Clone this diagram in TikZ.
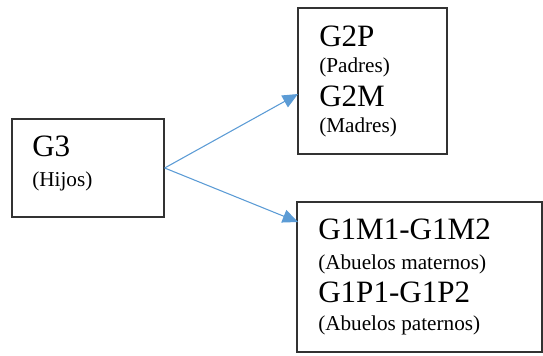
\documentclass[tikz,border=0pt]{standalone}
\usepackage{fontspec}
\setmainfont{Liberation Serif}
\usetikzlibrary{positioning,arrows.meta,fit}
\definecolor{arrC}{RGB}{91,155,213}
\definecolor{boxC}{RGB}{50,50,50}

\begin{document}
\begin{tikzpicture}[
  x=0.75pt, y=-0.75pt,
  box/.style={draw=boxC, line width=1pt, inner sep=0pt},
  gen/.style={anchor=base west, inner sep=0pt, font=\fontsize{23.3}{28}\selectfont},
  who/.style={anchor=base west, inner sep=0pt, font=\fontsize{15.9}{19}\selectfont},
  arr/.style={-{Triangle[length=11.5pt, width=10pt]}, line width=0.8pt, draw=arrC},
]
\useasboundingbox (0,0) rectangle (543,356);

% ---------------- boxes ----------------
\node[box, fit={(12,119) (164,217)}]  (hijos)    {};
\node[box, fit={(298,8) (447,154)}]   (padres)   {};
\node[box, fit={(297,202) (542,352)}] (abuelos)  {};

% ---------------- texts ----------------
\node[gen] (g3)   at (32,157) {G3};
\node[who] (g3w)  at (32,187) {(Hijos)};

\node[gen] (g2p)  at (319,47)  {G2P};
\node[who] (g2pw) at (319,73)  {(Padres)};
\node[gen] (g2m)  at (319,107) {G2M};
\node[who] (g2mw) at (319,133) {(Madres)};

\node[gen] (g1m)  at (318,240) {G1M1-G1M2};
\node[who] (g1mw) at (318,269) {(Abuelos maternos)};
\node[gen] (g1p)  at (318,302) {G1P1-G1P2};
\node[who] (g1pw) at (318,330) {(Abuelos paternos)};

% ---------------- arrows ----------------
\coordinate (tipP) at (298,94);
\coordinate (tipA) at (298,222);
\draw[arr] (hijos.east) -- (tipP);
\draw[arr] (hijos.east) -- (tipA);

\end{tikzpicture}
\end{document}
